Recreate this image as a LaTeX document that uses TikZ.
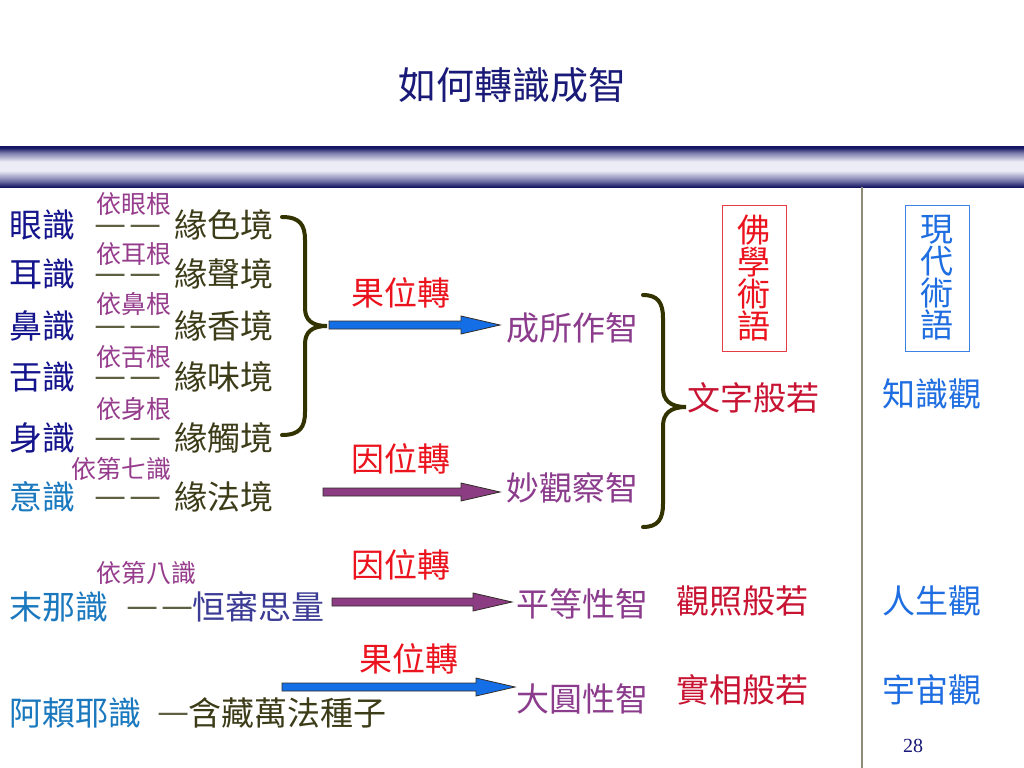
\documentclass[tikz,border=0pt]{standalone}
\usepackage{fontspec}
\setmainfont{Noto Sans CJK TC}
\newfontfamily\numfont{Liberation Serif}
\usetikzlibrary{calc}
\definecolor{titlenavy}{RGB}{25,25,120}
\definecolor{bnavy}{RGB}{22,22,100}
\definecolor{bmid}{RGB}{120,120,170}
\definecolor{blight}{RGB}{236,236,246}
\definecolor{darkblue}{RGB}{20,20,140}
\definecolor{lightblue}{RGB}{25,120,190}
\definecolor{smallpurple}{RGB}{150,60,140}
\definecolor{olive}{RGB}{60,60,25}
\definecolor{dashcol}{RGB}{95,95,65}
\definecolor{redlab}{RGB}{235,20,30}
\definecolor{wisdom}{RGB}{140,60,140}
\definecolor{crimson}{RGB}{200,20,50}
\definecolor{rblue}{RGB}{30,110,225}
\definecolor{hengcol}{RGB}{60,60,150}
\definecolor{arrblue}{RGB}{20,110,230}
\definecolor{arrpurple}{RGB}{140,60,130}
\definecolor{arredge}{RGB}{50,45,40}
\definecolor{bracecol}{RGB}{51,51,0}
\definecolor{linegray}{RGB}{140,140,120}
\definecolor{redbox}{RGB}{230,60,70}
\definecolor{bluebox}{RGB}{60,130,230}
\pgfdeclareverticalshading{bandshade}{100bp}{color(0bp)=(bnavy); color(25bp)=(bnavy); color(33bp)=(bmid); color(45bp)=(blight); color(56bp)=(blight); color(67bp)=(bmid); color(73bp)=(bnavy); color(100bp)=(bnavy)}
\newcommand\blkarrow[3]{%
  \path[#1] let \p1=(#2), \p2=(#3) in
    (\x1,\y1-4bp) -- (\x2-39bp,\y1-4bp) -- (\x2-39bp,\y1-9bp) -- (\x2,\y1)
    -- (\x2-39bp,\y1+9bp) -- (\x2-39bp,\y1+4bp) -- (\x1,\y1+4bp) -- cycle;}
\newcommand\twodash{—\kern3bp—}
\tikzset{
  base/.style={inner sep=0pt, anchor=west},
  big/.style={base, font=\fontsize{33bp}{36bp}\selectfont},
  small/.style={base, font=\fontsize{25bp}{28bp}\selectfont, text=smallpurple},
  sense/.style={big, text=darkblue},
  mind/.style={big, text=lightblue},
  dashtxt/.style={base, text=dashcol, font=\fontsize{36bp}{38bp}\selectfont},
  realm/.style={big, text=olive},
  turnlab/.style={big, text=redlab},
  wis/.style={big, text=wisdom},
  prajna/.style={big, text=crimson},
  modern/.style={big, text=rblue},
  vbox/.style={draw, line width=1bp, inner sep=0pt, minimum width=64bp, minimum height=146bp,
     align=center, font=\fontsize{33bp}{32bp}\selectfont},
  bracestyle/.style={draw=bracecol, line width=4bp, line cap=round},
  bluearr/.style={fill=arrblue, draw=arredge, line width=0.8bp},
  purplearr/.style={fill=arrpurple, draw=arredge, line width=0.8bp},
}
\begin{document}
\begin{tikzpicture}[x=1bp,y=-1bp]
\useasboundingbox (0,0) rectangle (1024,768);
\fill[white] (0,0) rectangle (1024,768);
% title and band
\node[inner sep=0pt, text=titlenavy, font=\fontsize{38bp}{40bp}\selectfont] (title) at (512,85) {如何轉識成智};
\shade[shading=bandshade] (0,146) rectangle (1024,187);
\draw[linegray, line width=1.5bp] (862,187) -- (862,768);
% six consciousnesses
\node[sense] (yan) at (9,225) {眼識};
\node[small] (yiyan) at (96,204) {依眼根};
\node[dashtxt] (d1) at (94,231) {\twodash};
\node[realm] (se) at (174,225) {緣色境};
\node[sense] (er) at (9,274) {耳識};
\node[small] (yier) at (96,254) {依耳根};
\node[dashtxt] (d2) at (94,280) {\twodash};
\node[realm] (sheng) at (174,274) {緣聲境};
\node[sense] (bi) at (9,326) {鼻識};
\node[small] (yibi) at (96,304) {依鼻根};
\node[dashtxt] (d3) at (94,332) {\twodash};
\node[realm] (xiang) at (174,326) {緣香境};
\node[sense] (she) at (9,377) {舌識};
\node[small] (yishe) at (96,357) {依舌根};
\node[dashtxt] (d4) at (94,383) {\twodash};
\node[realm] (wei) at (174,377) {緣味境};
\node[sense] (shen) at (9,438) {身識};
\node[small] (yishen) at (96,409) {依身根};
\node[dashtxt] (d5) at (94,444) {\twodash};
\node[realm] (chu) at (174,438) {緣觸境};
\node[mind] (yi) at (9,497) {意識};
\node[small] (yiqi) at (71,469) {依第七識};
\node[dashtxt] (d6) at (94,503) {\twodash};
\node[realm] (fa) at (174,497) {緣法境};
% seventh and eighth
\node[small] (yiba) at (96,573) {依第八識};
\node[mind] (mona) at (9,607) {末那識};
\node[dashtxt] (d7) at (126,613) {\twodash};
\node[big, text=hengcol] (heng) at (192,607) {恒審思量};
\node[mind] (alaya) at (9,713) {阿賴耶識};
\node[dashtxt] (d8) at (157,719) {—};
\node[realm] (hancang) at (188,713) {含藏萬法種子};
% wisdoms
\node[turnlab] (guo1) at (351,293) {果位轉};
\node[wis] (cheng) at (506,328) {成所作智};
\node[turnlab] (yin1) at (351,459) {因位轉};
\node[wis] (miao) at (506,488) {妙觀察智};
\node[turnlab] (yin2) at (351,565) {因位轉};
\node[wis] (ping) at (516,604) {平等性智};
\node[turnlab] (guo2) at (359,659) {果位轉};
\node[wis] (dayuan) at (516,699) {大圓性智};
% arrows
\coordinate (s1) at (329,325);
\coordinate (s2) at (323,492);
\coordinate (s3) at (332,602);
\coordinate (s4) at (282,687);
\blkarrow{bluearr}{s1}{[xshift=-6bp]cheng.west}
\blkarrow{purplearr}{s2}{[xshift=-6bp]miao.west}
\blkarrow{purplearr}{s3}{[xshift=-4bp]ping.west}
\blkarrow{bluearr}{s4}{[xshift=-1bp]dayuan.west}
% braces
\draw[bracestyle] (282,217) .. controls (300,217) and (305,225) .. (305,240) -- (305,308)
  .. controls (305,320) and (312,326) .. (327,326)
  .. controls (312,326) and (305,332) .. (305,344) -- (305,412)
  .. controls (305,427) and (300,435) .. (282,435);
\draw[bracestyle] (643,295) .. controls (658,295) and (663,303) .. (663,318) -- (663,388)
  .. controls (663,400) and (670,407) .. (686,407)
  .. controls (670,407) and (663,414) .. (663,426) -- (663,504)
  .. controls (663,519) and (658,527) .. (643,527);
% right columns
\node[vbox, draw=redbox, text=redlab] (fojiao) at (754,278) {佛\\學\\術\\語};
\node[vbox, draw=bluebox, text=rblue] (xiandai) at (937,278) {現\\代\\術\\語};
\node[prajna] (wenzi) at (687,398) {文字般若};
\node[prajna] (guanzhao) at (676,601) {觀照般若};
\node[prajna] (shixiang) at (676,690) {實相般若};
\node[modern] (zhishi) at (882,394) {知識觀};
\node[modern] (rensheng) at (882,601) {人生觀};
\node[modern] (yuzhou) at (882,690) {宇宙觀};
\node[inner sep=0pt, text=titlenavy, font=\numfont\fontsize{20bp}{22bp}\selectfont] (pagenum) at (913,746) {28};
\end{tikzpicture}
\end{document}
